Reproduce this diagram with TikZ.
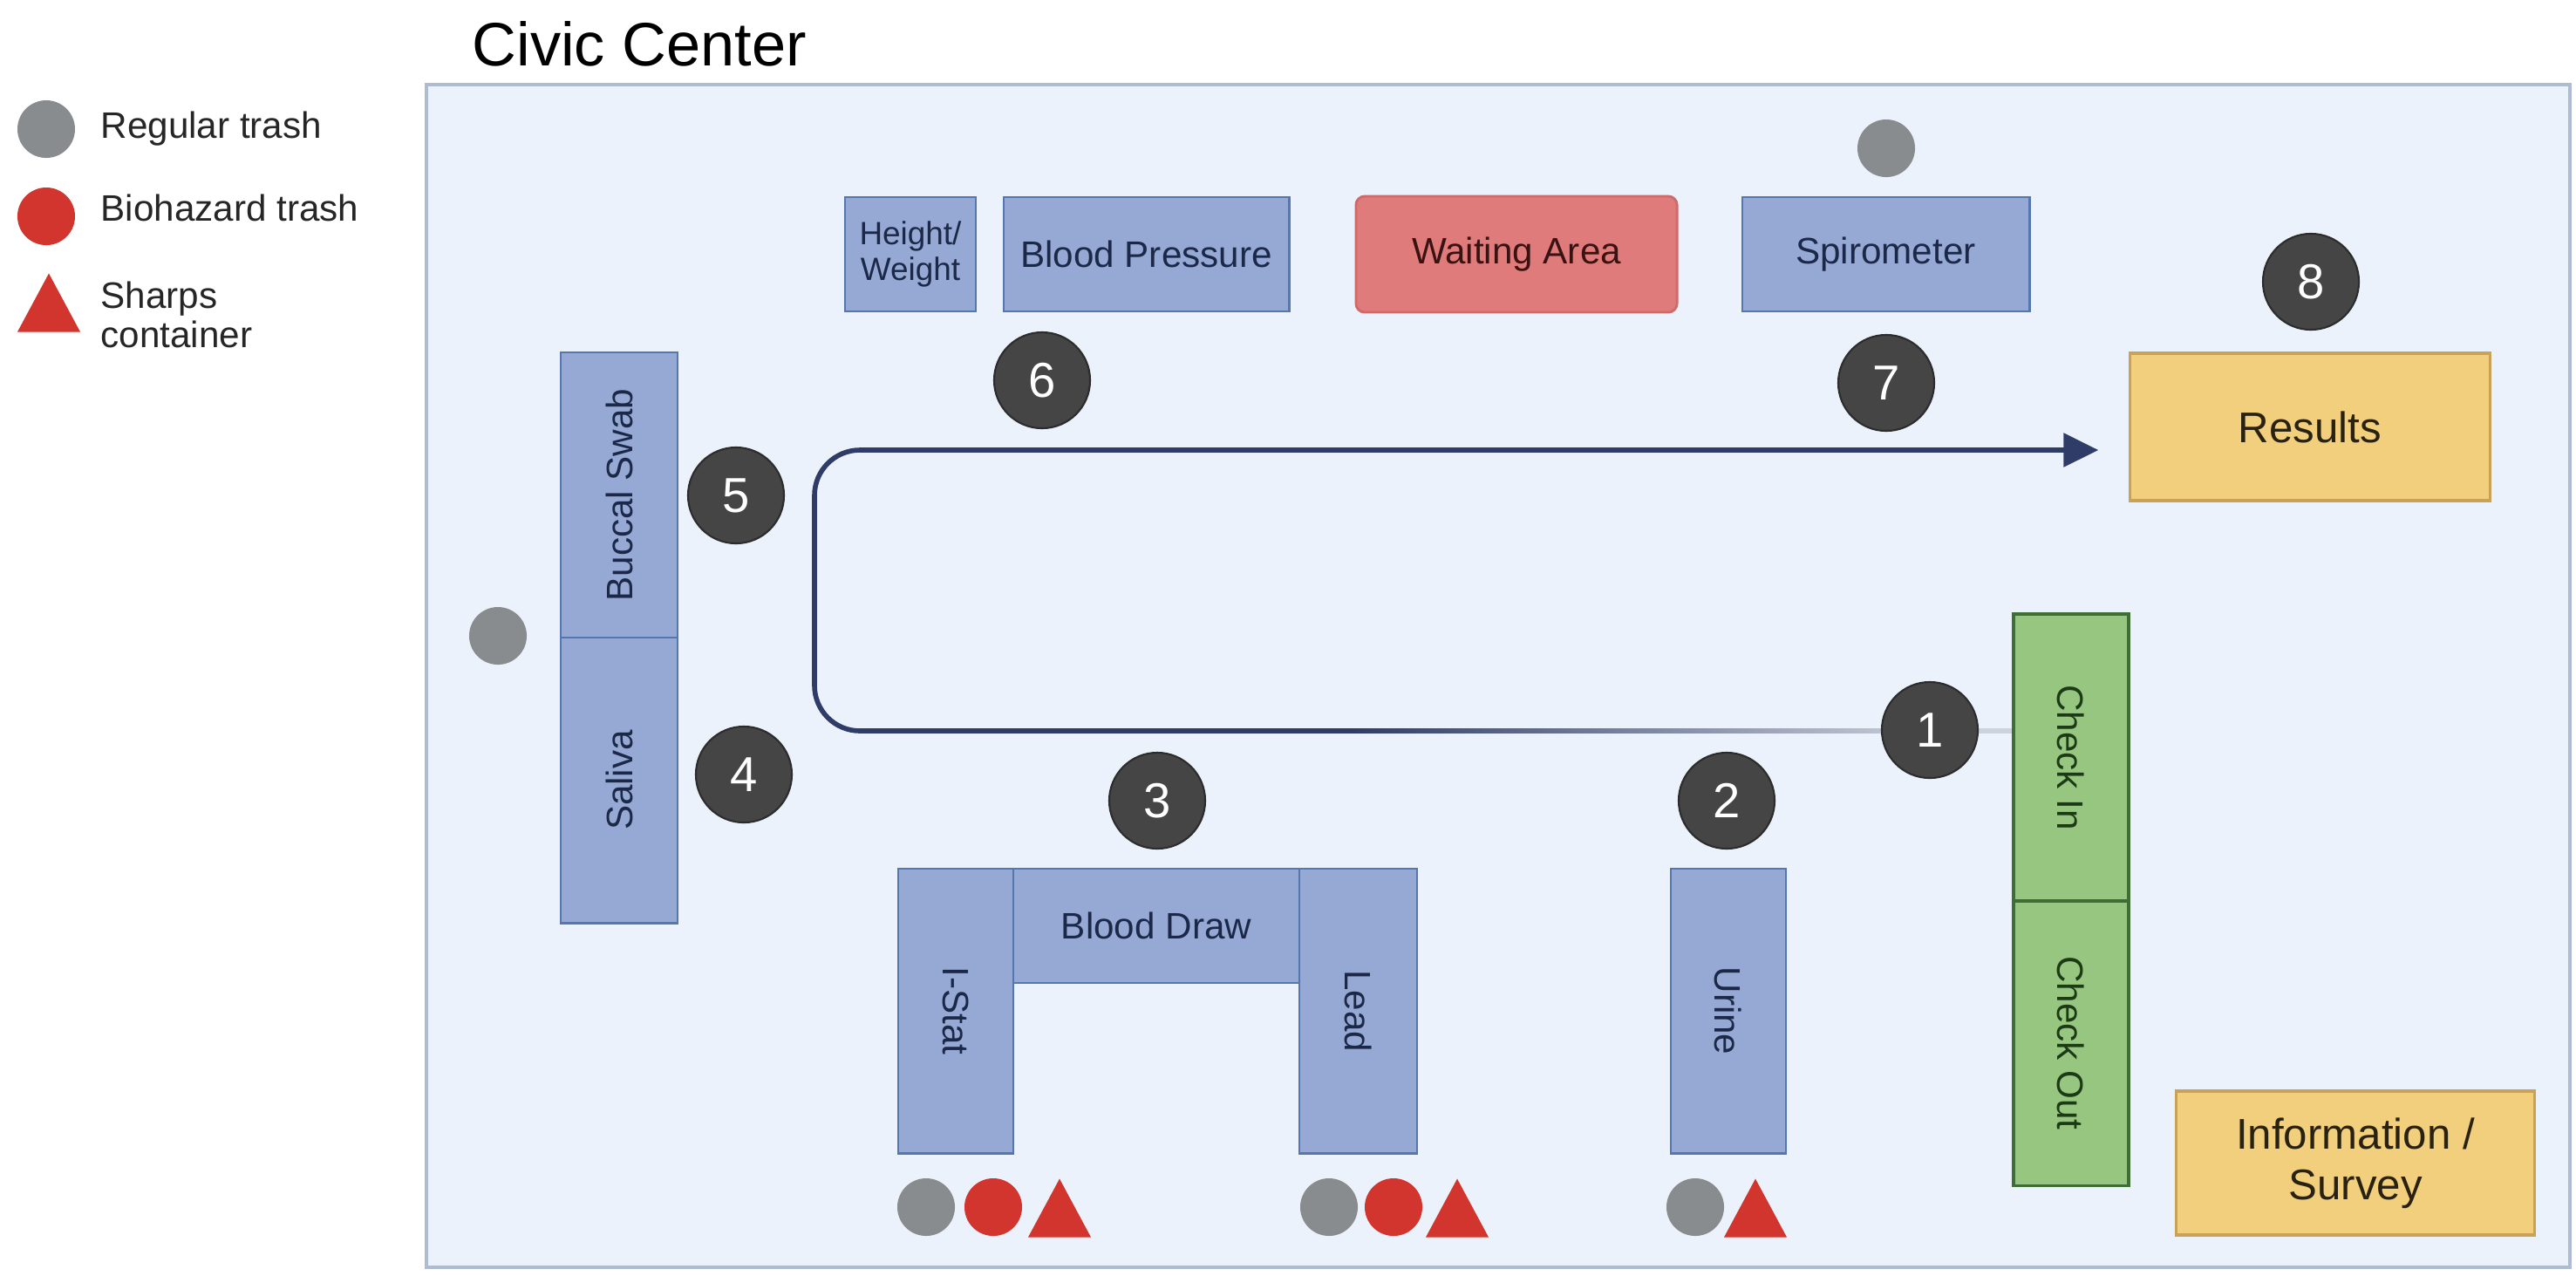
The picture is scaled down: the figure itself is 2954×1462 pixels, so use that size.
\documentclass[tikz,border=0pt]{standalone}
\usepackage{fontspec}
\setmainfont{Liberation Sans}
\usetikzlibrary{arrows.meta,calc}
\definecolor{framefill}{HTML}{EBF2FB}
\definecolor{frameline}{HTML}{AEBBD0}
\definecolor{bfill}{HTML}{95A9D4}
\definecolor{bline}{HTML}{5577B0}
\definecolor{btext}{HTML}{1C2848}
\definecolor{wfill}{HTML}{E07B7B}
\definecolor{wline}{HTML}{CF6A6A}
\definecolor{wtext}{HTML}{3A1212}
\definecolor{yfill}{HTML}{F2CF7C}
\definecolor{yline}{HTML}{C9A256}
\definecolor{ytext}{HTML}{2A2210}
\definecolor{gfill}{HTML}{96C67F}
\definecolor{gline}{HTML}{3E6D36}
\definecolor{gtext}{HTML}{1D3A16}
\definecolor{tgray}{HTML}{898C8E}
\definecolor{tred}{HTML}{D1352D}
\definecolor{numfill}{HTML}{454545}
\definecolor{numline}{HTML}{2C2C2C}
\definecolor{flownavy}{HTML}{2F3C68}
\definecolor{flowlight}{HTML}{CDD2DC}
\begin{document}
\begin{tikzpicture}[x=0.01cm,y=-0.01cm,
  frame/.style={draw=frameline, fill=framefill, line width=1.1pt, inner sep=0pt},
  station/.style={draw=bline, fill=bfill, line width=0.8pt, inner sep=0pt, text=btext,
    font=\fontsize{12}{14}\selectfont, align=center},
  waiting/.style={draw=wline, fill=wfill, line width=0.8pt, inner sep=0pt, text=wtext,
    rounded corners=0.1cm, font=\fontsize{12}{14}\selectfont},
  yellowbox/.style={draw=yline, fill=yfill, line width=0.9pt, inner sep=0pt, text=ytext,
    font=\fontsize{14}{16.5}\selectfont, align=center},
  checkbox/.style={draw=gline, fill=gfill, line width=0.9pt, inner sep=0pt, text=gtext,
    font=\fontsize{12}{14}\selectfont},
  numc/.style={circle, fill=numfill, draw=numline, line width=0.6pt, minimum size=1.10cm,
    inner sep=0pt, text=white, font=\fontsize{16}{16}\selectfont},
  gtrash/.style={circle, fill=tgray, minimum size=0.66cm, inner sep=0pt},
  rtrash/.style={circle, fill=tred, minimum size=0.66cm, inner sep=0pt},
  legtext/.style={anchor=base west, inner sep=0pt, text=black!85, font=\fontsize{12}{12.8}\selectfont, align=left},
  flow/.style={draw=flownavy, line width=1.6pt, rounded corners=0.52cm},
  sharps/.pic={\fill[tred] (-36,34) -- (0,-33) -- (36,34) -- cycle;}
]
\fill[white] (0,0) rectangle (2954,1462);
\useasboundingbox (0,0) rectangle (2954,1462);

% title and frame
\node[anchor=base west, inner sep=0pt, font=\fontsize{20}{24}\selectfont] (title) at (541,75) {Civic Center};
\node[frame, minimum width=24.56cm, minimum height=13.56cm] (hall) at (1718,775) {};

% legend
\node[gtrash] (leggray) at (53,148) {};
\node[rtrash] (legred) at (53,248) {};
\pic at (56,346.5) {sharps};
\node[legtext] (legt1) at (115,158) {Regular trash};
\node[legtext] (legt2) at (115,253) {Biohazard trash};
\node[legtext, anchor=west] (legt3) at (115,361) {Sharps\\container};

% stations
\node[station, minimum width=1.50cm, minimum height=1.31cm, font=\fontsize{10.5}{11.5}\selectfont] (hw) at (1044,291.5) {Height/\\Weight};
\node[station, minimum width=3.27cm, minimum height=1.31cm] (bp) at (1314.5,291.5) {Blood Pressure};
\node[waiting, minimum width=3.68cm, minimum height=1.33cm] (wa) at (1739,291.5) {Waiting Area};
\node[station, minimum width=3.29cm, minimum height=1.31cm] (sp) at (2162.5,291.5) {Spirometer};
\node[yellowbox, minimum width=4.12cm, minimum height=1.69cm] (res) at (2649,489.5) {Results};
\node[station, rotate=90, minimum width=3.27cm, minimum height=1.34cm] (bs) at (710,567.5) {Buccal Swab};
\node[station, rotate=90, minimum width=3.27cm, minimum height=1.34cm] (sa) at (710,894.5) {Saliva};
\node[station, rotate=-90, minimum width=3.26cm, minimum height=1.32cm] (is) at (1096,1159) {I-Stat};
\node[station, minimum width=3.28cm, minimum height=1.31cm] (bd) at (1326,1061.5) {Blood Draw};
\node[station, rotate=-90, minimum width=3.26cm, minimum height=1.35cm] (ld) at (1557.5,1159) {Lead};
\node[station, rotate=-90, minimum width=3.26cm, minimum height=1.32cm] (ur) at (1982,1159) {Urine};
\node[checkbox, rotate=-90, minimum width=3.29cm, minimum height=1.32cm] (ci) at (2375,868.5) {Check In};
\node[checkbox, rotate=-90, minimum width=3.26cm, minimum height=1.32cm] (co) at (2375,1196) {Check Out};
\node[yellowbox, minimum width=4.10cm, minimum height=1.65cm] (info) at (2701,1333.5) {Information /\\Survey};

% flow path
\coordinate (turnB) at (934,838);
\coordinate (turnT) at (934,516);
\coordinate (fadeL) at (1550,838);
\coordinate (fadeR) at (2230,838);
\shade[left color=flownavy, right color=flowlight]
  ($(fadeL)+(0,-2.8)$) rectangle ($(fadeR)+(0,2.8)$);
\fill[flowlight] ($(fadeR)+(-1,-2.8)$) rectangle ($(ci.south |- turnB)+(0,2.8)$);
\draw[flow, -{Triangle[length=0.40cm, width=0.38cm]}, shorten >=0.35cm]
  (fadeL) -- (turnB) -- (turnT) -- (res.west |- turnT);

% trash cans
\node[gtrash] (tbs) at (571,729) {};
\node[gtrash] (tsp) at (2163,170) {};
\node[gtrash] (tis1) at (1062,1384) {};
\node[rtrash] (tis2) at (1139,1384) {};
\pic at (1215,1384.5) {sharps};
\node[gtrash] (tld1) at (1524,1384) {};
\node[rtrash] (tld2) at (1598,1384) {};
\pic at (1671,1384.5) {sharps};
\node[gtrash] (tur1) at (1944,1384) {};
\pic at (2013,1384.5) {sharps};

% step numbers
\node[numc] (n1) at (2213,837) {1};
\node[numc] (n2) at (1980,918) {2};
\node[numc] (n3) at (1327,918) {3};
\node[numc] (n4) at (853,888) {4};
\node[numc] (n5) at (844,568) {5};
\node[numc] (n6) at (1195,436) {6};
\node[numc] (n7) at (2163,439) {7};
\node[numc] (n8) at (2650,323) {8};
\end{tikzpicture}
\end{document}
